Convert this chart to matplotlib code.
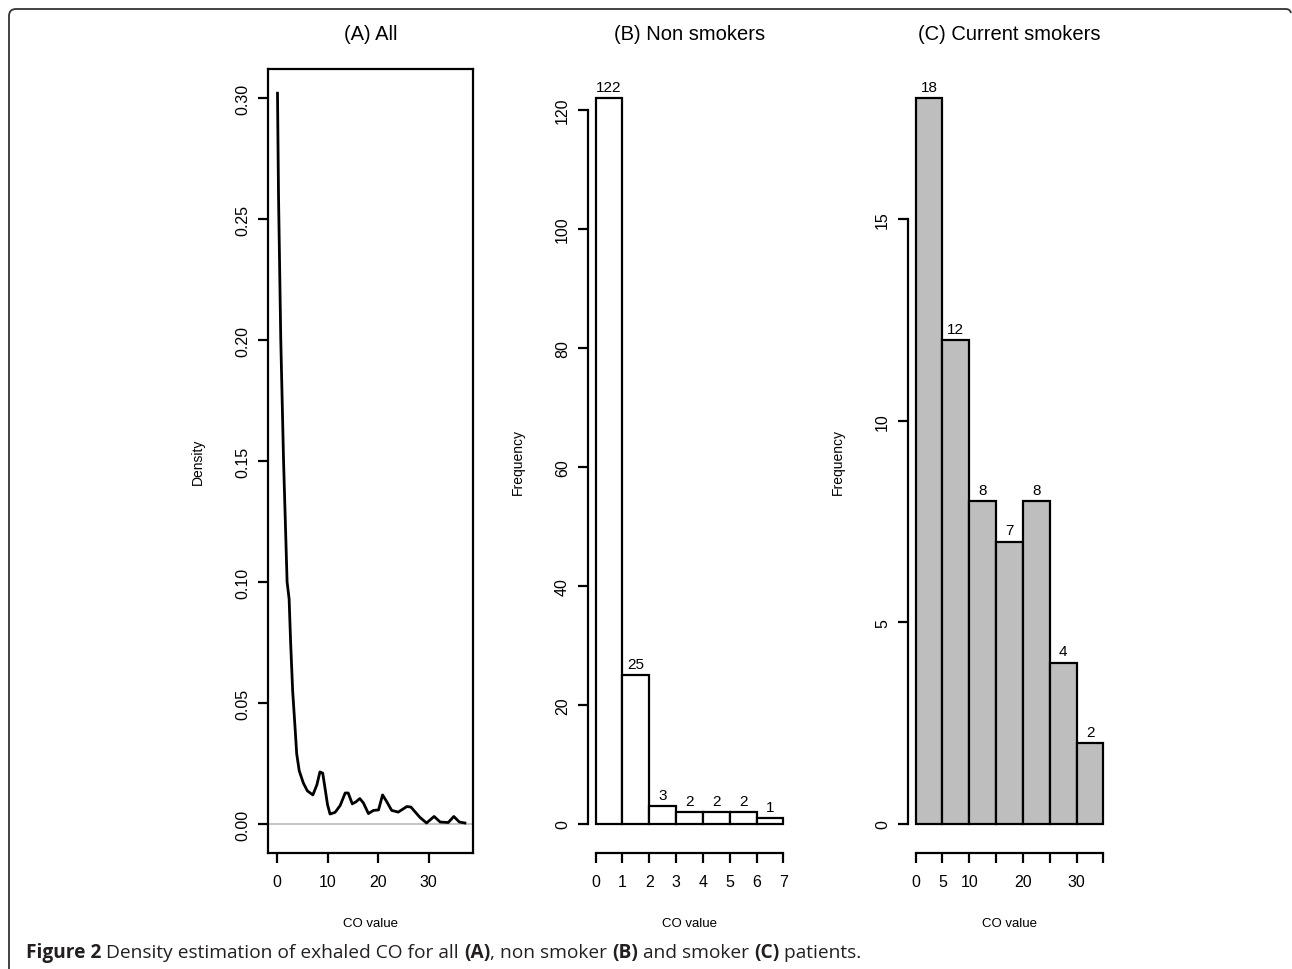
import matplotlib
matplotlib.use("Agg")
import matplotlib.pyplot as plt
from matplotlib.path import Path
from matplotlib.patches import PathPatch
import numpy as np

# ---------------- data ----------------
# (A) density estimate
dens_x = [0.1, 0.3, 0.75, 1.3, 2.0, 2.4, 2.7, 3.1, 3.6, 3.9, 4.4, 5.2, 6.0, 7.1,
          7.9, 8.5, 9.05, 9.5, 10.0, 10.5, 11.5, 12.5, 13.5, 14.1, 14.9, 15.6,
          16.4, 17.1, 18.1, 19.1, 20.1, 20.9, 21.7, 22.7, 24.0, 25.7, 26.5,
          28.3, 29.6, 31.1, 32.3, 33.9, 35.0, 36.1, 37.2]
dens_y = [0.302, 0.26, 0.20, 0.15, 0.10, 0.093, 0.075, 0.055, 0.039, 0.029,
          0.022, 0.017, 0.0137, 0.012, 0.0162, 0.0215, 0.021, 0.0149, 0.008,
          0.0041, 0.0048, 0.0076, 0.0128, 0.0128, 0.0083, 0.0091, 0.0105,
          0.0087, 0.0043, 0.0056, 0.0058, 0.012, 0.0093, 0.0056, 0.0049,
          0.0072, 0.0070, 0.0027, 0.0004, 0.0031, 0.0008, 0.0006, 0.0031,
          0.0008, 0.0004]

# (B) non smokers histogram
nons_breaks = [0, 1, 2, 3, 4, 5, 6, 7]
nons_counts = [122, 25, 3, 2, 2, 2, 1]

# (C) current smokers histogram
smk_breaks = [0, 5, 10, 15, 20, 25, 30, 35]
smk_counts = [18, 12, 8, 7, 8, 4, 2]

titles = ["(A) All", "(B) Non smokers", "(C) Current smokers"]
xlabel = "CO value"
ylabels = ["Density", "Frequency", "Frequency"]

# ---------------- figure ----------------
W, H = 1292, 970
fig = plt.figure(figsize=(W / 100, H / 100), dpi=100)
FONT = "Liberation Sans"
plt.rcParams["font.family"] = [FONT, "DejaVu Sans"]

TOP, BOT = 70, 854
LW = 1.6


def add_ax(left, width):
    return fig.add_axes([left / W, 1 - BOT / H, width / W, (BOT - TOP) / H])


def style(ax, xlim, ylim):
    ax.set_xlim(*xlim)
    ax.set_ylim(*ylim)
    ax.tick_params(direction="out", length=7, width=LW, labelsize=11.5, pad=8,
                   colors="black")
    ax.tick_params(axis="y", pad=6)
    for s in ax.spines.values():
        s.set_linewidth(LW)
    plt.setp(ax.get_yticklabels(), rotation=90, va="center")
    hpx = ax.get_position().height * H
    ax.xaxis.set_label_coords(0.5, -64 / hpx)
    ax.set_xlabel(xlabel, fontsize=9.5)


def ylab(ax, text):
    wpx = ax.get_position().width * W
    ax.set_ylabel(text, fontsize=10)
    ax.yaxis.set_label_coords(-63 / wpx, 0.5)


def title(ax, text):
    hpx = ax.get_position().height * H
    ax.text(0.5, 1 + 35 / hpx, text, transform=ax.transAxes, ha="center",
            va="center", fontsize=14.5)


# Panel A
axA = add_ax(268, 205)
axA.plot(dens_x, dens_y, color="black", lw=2.0)
axA.axhline(0, color="#bbbbbb", lw=1.2, zorder=0)
axA.set_xticks([0, 10, 20, 30])
axA.set_yticks([0.0, 0.05, 0.10, 0.15, 0.20, 0.25, 0.30])
axA.set_yticklabels(["0.00", "0.05", "0.10", "0.15", "0.20", "0.25", "0.30"])
style(axA, (-1.78, 38.8), (-0.012, 0.312))
ylab(axA, ylabels[0])
title(axA, titles[0])


def hist_panel(ax, breaks, counts, color, xticks, xticklabels, yticks, ylim):
    lefts = breaks[:-1]
    widths = np.diff(breaks)
    ax.bar(lefts, counts, width=widths, align="edge", facecolor=color,
           edgecolor="black", linewidth=LW)
    for l, w, c in zip(lefts, widths, counts):
        ax.annotate(str(c), (l + w / 2, c), xytext=(0, 3),
                    textcoords="offset points", ha="center", va="bottom",
                    fontsize=11)
    ax.set_xticks(xticks)
    ax.set_xticklabels(xticklabels)
    ax.set_yticks(yticks)
    r = breaks[-1] - breaks[0]
    for s in ["top", "right"]:
        ax.spines[s].set_visible(False)
    ax.spines["left"].set_bounds(yticks[0], yticks[-1])
    ax.spines["bottom"].set_bounds(xticks[0], xticks[-1])
    style(ax, (breaks[0] - 0.04 * r, breaks[-1] + 0.04 * r), ylim)


axB = add_ax(588, 203)
m = max(nons_counts)
hist_panel(axB, nons_breaks, nons_counts, "white", list(range(8)),
           [str(i) for i in range(8)], [0, 20, 40, 60, 80, 100, 120],
           (-0.04 * m, 1.04 * m))
ylab(axB, ylabels[1])
title(axB, titles[1])

axC = add_ax(908, 203)
m = max(smk_counts)
hist_panel(axC, smk_breaks, smk_counts, "#bebebe", smk_breaks,
           ["0", "5", "10", "", "20", "", "30", ""], [0, 5, 10, 15],
           (-0.04 * m, 1.04 * m))
ylab(axC, ylabels[2])
title(axC, titles[2])

# ---------------- frame (top + left edges, rounded corner) ----------------
def px(x, y):
    return (x / W, 1 - y / H)


verts = [px(9, 970), px(9, 17), px(9, 10), px(16, 10), px(1286, 10),
         px(1290, 10), px(1291, 14)]
codes = [Path.MOVETO, Path.LINETO, Path.CURVE3, Path.CURVE3, Path.LINETO,
         Path.CURVE3, Path.CURVE3]
fig.patches.append(PathPatch(Path(verts, codes), transform=fig.transFigure,
                             fill=False, edgecolor="#333333", lw=1.3))

# ---------------- caption ----------------
cap_parts = [("Figure 2", "bold"), (" Density estimation of exhaled CO for all ", "normal"),
             ("(A)", "bold"), (", non smoker ", "normal"), ("(B)", "bold"),
             (" and smoker ", "normal"), ("(C)", "bold"), (" patients.", "normal")]
fig.canvas.draw()
renderer = fig.canvas.get_renderer()
x = 26
for txt, wt in cap_parts:
    t = fig.text(x / W, 1 - 958 / H, txt, fontsize=13.8, fontweight=wt,
                 family=["Open Sans", "DejaVu Sans"], color="#231f20",
                 ha="left", va="baseline")
    bb = t.get_window_extent(renderer=renderer)
    x += bb.width

fig.savefig("out.png", dpi=100)
